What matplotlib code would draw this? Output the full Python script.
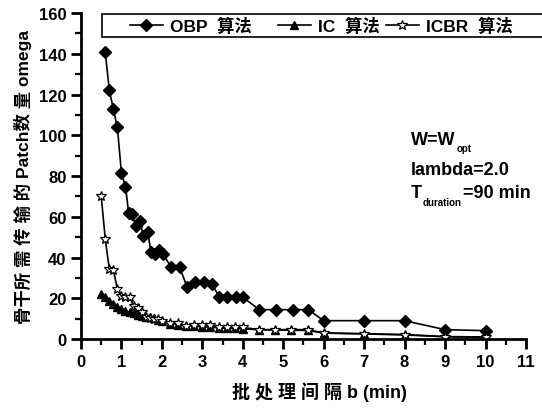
import matplotlib
matplotlib.use("Agg")
import matplotlib.pyplot as plt
from matplotlib.ticker import MultipleLocator
from matplotlib.patches import Rectangle
from matplotlib.transforms import offset_copy

plt.rcParams['font.family'] = ['Liberation Sans', 'Noto Sans CJK SC', 'DejaVu Sans']

# OBP 算法
obp_x = [0.6, 0.7, 0.8, 0.9, 1.0, 1.1, 1.18, 1.26, 1.35, 1.46, 1.54, 1.65, 1.73, 1.84,
         1.94, 2.03, 2.23, 2.44, 2.62, 2.83, 3.03, 3.24, 3.42, 3.61, 3.82, 4.0, 4.41,
         4.83, 5.23, 5.62, 6.0, 7.0, 8.0, 9.0, 10.0]
obp_y = [140.7, 122.2, 112.9, 103.9, 81.5, 74.8, 61.8, 61.3, 55.6, 57.8, 50.7, 52.4,
         42.8, 41.7, 43.8, 41.7, 35.2, 35.2, 25.7, 27.8, 27.8, 27.0, 20.5, 20.5, 20.5,
         20.5, 14.4, 14.4, 14.4, 14.4, 9.0, 9.0, 9.0, 4.6, 4.1]

# IC 算法 / ICBR 算法 share the batch-interval grid
b_x = [0.5, 0.6, 0.7, 0.8, 0.9, 1.0, 1.1, 1.2, 1.3, 1.4, 1.5, 1.6, 1.7, 1.8, 1.9, 2.0,
       2.2, 2.4, 2.6, 2.8, 3.0, 3.2, 3.4, 3.6, 3.8, 4.0, 4.4, 4.8, 5.2, 5.6, 6.0, 7.0,
       8.0, 9.0, 10.0]
ic_y = [22.0, 20.5, 18.8, 17.2, 15.9, 14.7, 13.9, 13.1, 12.6, 11.8, 11.4, 10.9, 10.6,
        10.1, 9.5, 9.0, 7.5, 7.0, 6.5, 6.3, 6.0, 5.8, 5.5, 5.3, 5.2, 5.0, 4.6, 4.4,
        4.3, 4.2, 3.0, 2.6, 2.2, 1.2, 1.0]
icbr_y = [70.3, 49.1, 34.4, 34.0, 24.5, 21.0, 20.5, 20.5, 16.3, 15.0, 13.1, 10.9, 10.1,
          9.8, 9.6, 9.0, 7.7, 7.7, 6.5, 6.9, 6.9, 7.0, 5.7, 5.7, 5.7, 5.7, 4.6, 4.6,
          4.6, 4.6, 2.9, 2.5, 2.0, 1.1, 0.8]

labels = ['OBP  算法', 'IC  算法', 'ICBR  算法']
xticks = list(range(0, 12))
yticks = list(range(0, 161, 20))

fig = plt.figure(figsize=(5.42, 4.10), dpi=100)
ax = fig.add_axes([0.1494, 0.1707, 0.821, 0.795])

l1, = ax.plot(obp_x, obp_y, color='black', lw=1.2, marker='D', ms=6,
              mfc='black', mec='black', label=labels[0])
l2, = ax.plot(b_x, ic_y, color='black', lw=1.2, marker='^', ms=5.5,
              mfc='black', mec='black', label=labels[1])
l3, = ax.plot(b_x, icbr_y, color='black', lw=1.2, marker='*', ms=7.5,
              mfc='white', mec='black', mew=0.9, label=labels[2])

ax.set_xlim(0, 11)
ax.set_ylim(0, 160)
ax.set_xticks(xticks)
ax.set_yticks(yticks)
ax.xaxis.set_minor_locator(MultipleLocator(0.5))
ax.yaxis.set_minor_locator(MultipleLocator(10))
ax.spines['top'].set_visible(False)
ax.spines['right'].set_visible(False)
for s in ('left', 'bottom'):
    ax.spines[s].set_linewidth(2)
ax.tick_params(which='major', direction='out', length=7, width=2, labelsize=12)
ax.tick_params(which='minor', direction='out', length=4, width=1.6)
for t in ax.get_xticklabels() + ax.get_yticklabels():
    t.set_fontweight('bold')

ax.set_xlabel('批 处 理 间 隔 b (min)', fontsize=13, fontweight='bold')
ax.xaxis.set_label_coords(0.535, -0.13)
ax.set_ylabel('骨干所 需 传 输 的 Patch数 量 omega', fontsize=12.5, fontweight='bold')
ax.yaxis.set_label_coords(-0.11, 0.5)

# annotation block with small, low subscripts
fs = 13
renderer = fig.canvas.get_renderer()
t1 = ax.text(8.15, 95.7, 'W=W', fontsize=fs, fontweight='bold', va='baseline')
w1 = t1.get_window_extent(renderer).width
ax.text(8.15, 95.7, 'opt', fontsize=7, fontweight='bold', va='baseline',
        transform=offset_copy(ax.transData, fig=fig, x=w1 + 1, y=-7, units='dots'))
ax.text(8.15, 81, 'lambda=2.0', fontsize=fs, fontweight='bold', va='baseline')
t3 = ax.text(8.15, 69.7, 'T', fontsize=fs, fontweight='bold', va='baseline')
w3 = t3.get_window_extent(renderer).width
t4 = ax.text(8.15, 69.7, 'duration', fontsize=7, fontweight='bold', va='baseline',
             transform=offset_copy(ax.transData, fig=fig, x=w3 + 1, y=-8, units='dots'))
w4 = t4.get_window_extent(renderer).width
ax.text(8.15, 69.7, '=90 min', fontsize=fs, fontweight='bold', va='baseline',
        transform=offset_copy(ax.transData, fig=fig, x=w3 + w4 + 2, y=0, units='dots'))

# legend box (extends past the right edge like the reference)
fig.patches.append(Rectangle((102 / 542, 1 - 38 / 410), 460 / 542, 23 / 410,
                             transform=fig.transFigure, fill=True, facecolor='white',
                             edgecolor='black', linewidth=1.2, zorder=5))
for h, xpx in zip([l1, l2, l3], [130, 278, 386]):
    leg = fig.legend(handles=[h], loc='center left',
                     bbox_to_anchor=(xpx / 542, 1 - 26.5 / 410),
                     frameon=False, fontsize=12.5,
                     handlelength=1.9, handletextpad=0.4,
                     borderpad=0.0, borderaxespad=0)
    leg.set_zorder(6)
    for t in leg.get_texts():
        t.set_fontweight('bold')

fig.savefig('out.png', dpi=100)
